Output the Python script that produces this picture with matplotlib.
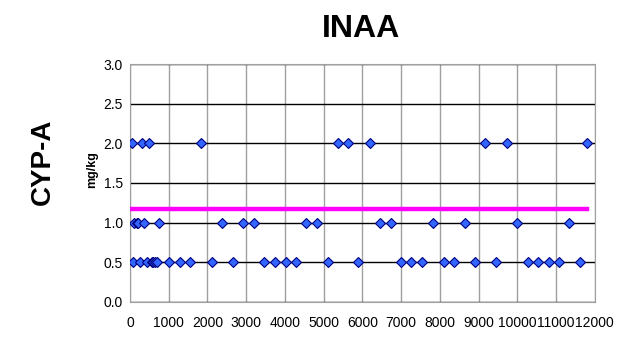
import matplotlib.pyplot as plt
from matplotlib.ticker import MultipleLocator

plt.rcParams['font.family'] = ['Liberation Sans', 'DejaVu Sans']

x_20 = [44, 302, 483, 1836, 5371, 5630, 6198, 9172, 9724, 11792]
x_10 = [111, 173, 199, 370, 750, 2387, 2922, 3199, 4551, 4827,
        6465, 6732, 7818, 8637, 10000, 11345]
x_05 = [86, 259, 431, 560, 603, 646, 706, 1017, 1293, 1560, 2121, 2656,
        3457, 3732, 4017, 4293, 5103, 5889, 7000, 7266, 7543, 8094, 8370,
        8904, 9447, 10267, 10543, 10817, 11086, 11620]
levels = [2.0, 1.0, 0.5]

limit_x = [18, 11810]
limit_y = [1.17, 1.17]

fig = plt.figure(figsize=(6.19, 3.38), dpi=100)
ax = fig.add_axes([0.210, 0.1074, 0.751, 0.7024])

ax.plot(limit_x, limit_y, color='#FF00FF', lw=3.2, zorder=3)
for xs, lv in zip([x_20, x_10, x_05], levels):
    ax.plot(xs, [lv] * len(xs), ls='none', marker='D', ms=5.5,
            mfc='#3366FF', mec='#000080', mew=0.8, zorder=4)

ax.set_xlim(0, 12000)
ax.set_ylim(0, 3.0)
ax.xaxis.set_major_locator(MultipleLocator(1000))
ax.yaxis.set_major_locator(MultipleLocator(0.5))
ax.yaxis.set_major_formatter(lambda v, p: f'{v:.1f}')
ax.tick_params(length=0, labelsize=10)
ax.tick_params(axis='x', pad=10)
ax.tick_params(axis='y', pad=5)

ax.grid(axis='y', color='black', lw=1.0)
ax.grid(axis='x', color='#a0a0a0', lw=1.0)
ax.set_axisbelow(True)
for s in ax.spines.values():
    s.set_color('#a0a0a0')

fig.text(0.584, 0.915, 'INAA', ha='center', va='center', fontsize=23, fontweight='bold')
fig.text(0.070, 0.52, 'CYP-A', ha='center', va='center', rotation=90,
         fontsize=20, fontweight='bold')
fig.text(0.149, 0.497, 'mg/kg', ha='center', va='center', rotation=90,
         fontsize=9, fontweight='bold')

fig.savefig('out.png', dpi=100)
